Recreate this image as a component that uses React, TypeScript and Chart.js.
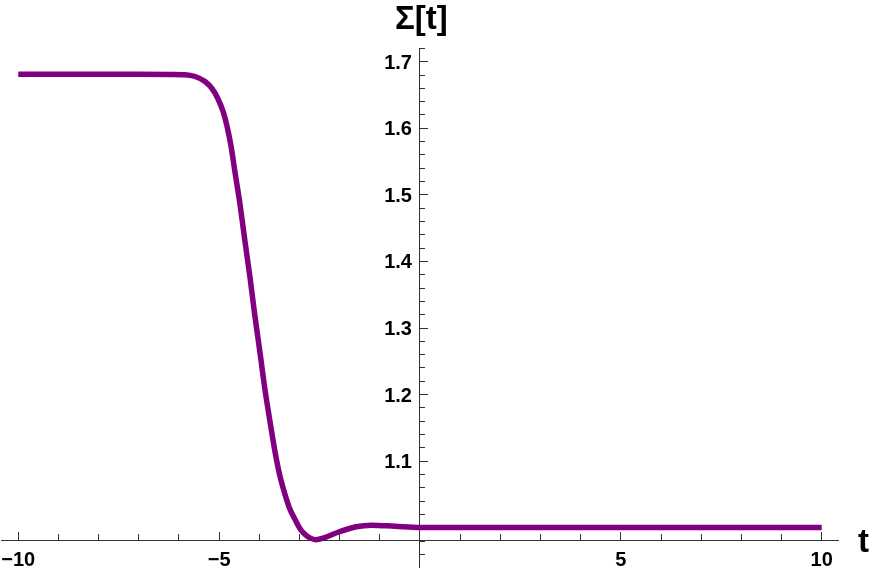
import { useEffect, useRef } from 'react';
import { Chart, registerables } from 'chart.js';

Chart.register(...registerables);

// Curve samples
const tValues = [
  -10, -9, -8, -7, -6.2, -5.85, -5.6, -5.35, -5.18, -5.03, -4.9, -4.8, -4.7,
  -4.61, -4.48, -4.36, -4.23, -4.11, -3.98, -3.86, -3.73, -3.61, -3.49, -3.36,
  -3.24, -3.11, -2.99, -2.86, -2.74, -2.59, -2.37, -1.99, -1.59, -1.2, -0.62,
  0, 1, 3, 6, 10,
];
const sigmaValues = [
  1.681, 1.681, 1.681, 1.681, 1.6808, 1.6804, 1.6778, 1.6703, 1.6598, 1.6444,
  1.6249, 1.6021, 1.572, 1.536, 1.4857, 1.4316, 1.3752, 1.3182, 1.2618, 1.2078,
  1.1582, 1.1146, 1.0786, 1.05, 1.0282, 1.0125, 0.9989, 0.9899, 0.9847, 0.982,
  0.9853, 0.9943, 1.0015, 1.0039, 1.0021, 1.0003, 1.0002, 1.0002, 1.0002, 1.0002,
];

// Ticks
const xMajorTicks = [-10, -5, 5, 10];
const xTickLabels = ['\u221210', '\u22125', '5', '10'];
const xMinorTicks = [-9, -8, -7, -6, -4, -3, -2, -1, 1, 2, 3, 4, 6, 7, 8, 9];
const yMajorTicks = [1.0, 1.1, 1.2, 1.3, 1.4, 1.5, 1.6, 1.7];
const yLabelTicks = [1.1, 1.2, 1.3, 1.4, 1.5, 1.6, 1.7];
const yTickLabels = ['1.1', '1.2', '1.3', '1.4', '1.5', '1.6', '1.7'];
const yMinorTicks = [
  0.96, 0.98, 1.02, 1.04, 1.06, 1.08, 1.12, 1.14, 1.16, 1.18, 1.22, 1.24, 1.26,
  1.28, 1.32, 1.34, 1.36, 1.38, 1.42, 1.44, 1.46, 1.48, 1.52, 1.54, 1.56, 1.58,
  1.62, 1.64, 1.66, 1.68, 1.72,
];

const xTitle = 't';
const yTitle = '\u03A3[t]';

// Axis ranges / crossing
const X_MIN = -10.43;
const X_MAX = 10.406;
const Y_MIN = 0.941;
const Y_MAX = 1.7206;
const X_AXIS_AT = 0.9815; // y-value where the t axis sits
const Y_AXIS_AT = 0; // t-value where the Σ axis sits
const X_LABEL_AT = 0.9688;
const Y_LABEL_AT = -0.2;
const Y_LABEL_SHIFT = 0.00225;

const AXIS = '#333333';
const LINE = '#800080';
const FONT = '"Liberation Sans", Arial, Helvetica, sans-serif';

const setTicks = (vals: number[]) => (scale: any) => {
  scale.ticks = vals.map((v) => ({ value: v }));
};

const titlePlugin = {
  id: 'axisTitles',
  afterDraw(chart: any) {
    const ctx = chart.ctx;
    const x0 = chart.scales.x.getPixelForValue(Y_AXIS_AT);
    const yAxisPx = chart.scales.y.getPixelForValue(X_AXIS_AT);
    ctx.save();
    ctx.fillStyle = '#000';
    ctx.textAlign = 'left';
    ctx.textBaseline = 'alphabetic';
    ctx.font = `bold 33px ${FONT}`;
    ctx.fillText(yTitle, x0 - 25, 28.5);
    ctx.fillText(xTitle, chart.chartArea.right + 20, yAxisPx + 12);
    ctx.restore();
  },
};

export default function App() {
  const ref = useRef<HTMLCanvasElement>(null);

  useEffect(() => {
    if (!ref.current) return;
    const labelFont = { family: FONT, size: 20, weight: 'bold' as const };
    const chart = new Chart(ref.current, {
      type: 'line',
      data: {
        datasets: [
          {
            data: tValues.map((t, i) => ({ x: t, y: sigmaValues[i] })),
            borderColor: LINE,
            borderWidth: 5.5,
            pointRadius: 0,
            fill: false,
            cubicInterpolationMode: 'monotone',
          },
        ],
      },
      plugins: [titlePlugin],
      options: {
        animation: false,
        responsive: false,
        devicePixelRatio: 1,
        layout: { padding: { left: 1, right: 34, top: 48, bottom: 3 } },
        plugins: {
          legend: { display: false },
          tooltip: { enabled: false },
          title: { display: false },
        },
        scales: {
          x: {
            type: 'linear',
            axis: 'x',
            position: { y: X_AXIS_AT },
            min: X_MIN,
            max: X_MAX,
            afterBuildTicks: setTicks(xMajorTicks),
            ticks: { display: false },
            grid: { drawOnChartArea: false, tickLength: -9, tickColor: AXIS, tickWidth: 1 },
            border: { display: true, color: AXIS, width: 1 },
          },
          xMinor: {
            type: 'linear',
            axis: 'x',
            position: { y: X_AXIS_AT },
            min: X_MIN,
            max: X_MAX,
            afterBuildTicks: setTicks(xMinorTicks),
            ticks: { display: false },
            grid: { drawOnChartArea: false, tickLength: -6, tickColor: AXIS, tickWidth: 1 },
            border: { display: false },
          },
          xLab: {
            type: 'linear',
            axis: 'x',
            position: { y: X_LABEL_AT },
            min: X_MIN,
            max: X_MAX,
            afterBuildTicks: setTicks(xMajorTicks),
            ticks: {
              display: true,
              autoSkip: false,
              maxRotation: 0,
              minRotation: 0,
              padding: 0,
              color: '#000',
              font: { ...labelFont, lineHeight: 1.2 },
              callback: (_v: any, i: number) => xTickLabels[i],
            },
            grid: { display: false, drawTicks: false, drawOnChartArea: false },
            border: { display: false },
          },
          y: {
            type: 'linear',
            axis: 'y',
            position: { x: Y_AXIS_AT },
            min: Y_MIN,
            max: Y_MAX,
            afterBuildTicks: setTicks(yMajorTicks),
            ticks: { display: false },
            grid: { drawOnChartArea: false, tickLength: -9, tickColor: AXIS, tickWidth: 1 },
            border: { display: true, color: AXIS, width: 1 },
          },
          yMinor: {
            type: 'linear',
            axis: 'y',
            position: { x: Y_AXIS_AT },
            min: Y_MIN,
            max: Y_MAX,
            afterBuildTicks: setTicks(yMinorTicks),
            ticks: { display: false },
            grid: { drawOnChartArea: false, tickLength: -5, tickColor: AXIS, tickWidth: 1 },
            border: { display: false },
          },
          yLab: {
            type: 'linear',
            axis: 'y',
            position: { x: Y_LABEL_AT },
            min: Y_MIN + Y_LABEL_SHIFT,
            max: Y_MAX + Y_LABEL_SHIFT,
            afterBuildTicks: setTicks(yLabelTicks),
            ticks: {
              display: true,
              autoSkip: false,
              padding: 0,
              color: '#000',
              font: { ...labelFont, lineHeight: 0.2 },
              callback: (_v: any, i: number) => yTickLabels[i],
            },
            grid: { display: false, drawTicks: false, drawOnChartArea: false },
            border: { display: false },
          },
        },
      } as any,
    });
    return () => chart.destroy();
  }, []);

  return (
    <div style={{ position: 'absolute', left: 0, top: 0, width: 872, height: 570, background: '#fff' }}>
      <canvas ref={ref} width={872} height={570} style={{ display: 'block', width: 872, height: 570 }} />
    </div>
  );
}
